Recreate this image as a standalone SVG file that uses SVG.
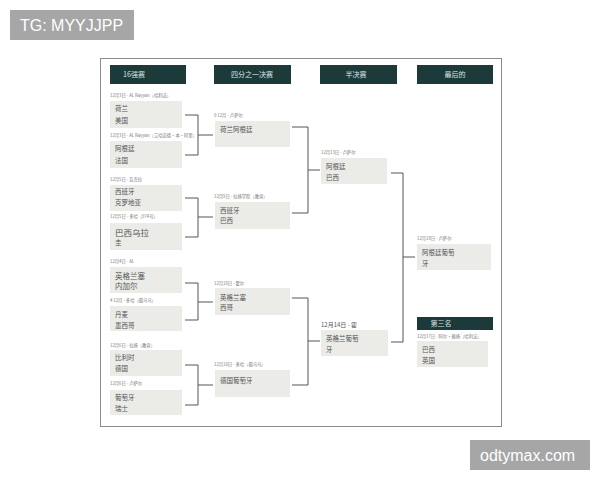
<svg xmlns="http://www.w3.org/2000/svg" width="600" height="480" viewBox="0 0 600 480">
<style>
.hd{fill:#1d3a3b}
.ht{fill:#d8e4e2;font-family:"Noto Sans CJK SC","Noto Sans",sans-serif;font-size:7px;text-anchor:middle}
.bx{fill:#ebebe8}
.tm{fill:#555;font-family:"Noto Sans CJK SC","Noto Sans",sans-serif;font-size:6.5px}
.lb{fill:#777;font-family:"Noto Sans CJK SC","Noto Sans",sans-serif;font-size:4.3px}
.cn{fill:none;stroke:#555;stroke-width:1}
.wm{fill:#fff;font-family:"Liberation Sans",Arial,sans-serif;font-size:16px}
</style>
<rect width="600" height="480" fill="#fff"/>
<g id="tag1"><rect x="10" y="10" width="124" height="30" fill="#a6a6a6"/><text class="wm" x="20" y="31">TG: MYYJJPP</text></g>
<g id="tag2"><rect x="470" y="440" width="120" height="30" fill="#a6a6a6"/><text class="wm" x="480" y="461">odtymax.com</text></g>
<rect id="frame" x="100.5" y="58.5" width="401" height="368" fill="none" stroke="#8a8a8a" stroke-width="1"/>
<g id="headers">
<rect class="hd" x="110" y="65" width="76" height="19"/><text class="ht" x="134" y="77">16强赛</text>
<rect class="hd" x="214" y="65" width="77" height="19"/><text class="ht" x="252" y="77">四分之一决赛</text>
<rect class="hd" x="320" y="65" width="77" height="19"/><text class="ht" x="356" y="77">半决赛</text>
<rect class="hd" x="417" y="65" width="76" height="19"/><text class="ht" x="455" y="77">最后的</text>
</g>
<g id="connectors">
<path class="cn" d="M185 115H198V155H185M198 135H213"/>
<path class="cn" d="M185 198H198V237H185M198 217H213"/>
<path class="cn" d="M185 283H198V320H185M198 302H213"/>
<path class="cn" d="M185 365H198V405H185M198 385H213"/>
<path class="cn" d="M292 127H308V213H292M308 170H320"/>
<path class="cn" d="M292 298H308V385H292M308 341H320"/>
<path class="cn" d="M391 173H403V342H391M403 257H415"/>
</g>
<g id="r16-1"><text class="lb" x="110" y="97">12月3日 - AL Rayyan（哈利法）</text><rect class="bx" x="110" y="101" width="72" height="27"/><text class="tm" x="115" y="111">荷兰</text><text class="tm" x="115" y="123">美国</text></g>
<g id="r16-2"><text class="lb" x="110" y="137">12月3日 - AL Rayyan（艾哈迈德·本·阿里）</text><rect class="bx" x="110" y="141" width="72" height="27"/><text class="tm" x="115" y="151">阿根廷</text><text class="tm" x="115" y="163">法国</text></g>
<g id="r16-3"><text class="lb" x="110" y="181">12月5日 - 瓦克拉</text><rect class="bx" x="110" y="185" width="72" height="26"/><text class="tm" x="115" y="194">西班牙</text><text class="tm" x="115" y="205">克罗地亚</text></g>
<g id="r16-4"><text class="lb" x="110" y="218">12月5日 - 多哈（974号）</text><rect class="bx" x="110" y="223" width="72" height="27"/><text class="tm" x="115" y="236" style="font-size:8.5px">巴西乌拉</text><text class="tm" x="115" y="245">圭</text></g>
<g id="r16-5"><text class="lb" x="110" y="263">12月4日 - AL</text><rect class="bx" x="110" y="267" width="72" height="26"/><text class="tm" x="115" y="279" style="font-size:7.5px">英格兰塞</text><text class="tm" x="115" y="289" style="font-size:7.5px">内加尔</text></g>
<g id="r16-6"><text class="lb" x="110" y="302">4 12月 - 多哈（孤马马）</text><rect class="bx" x="110" y="306" width="72" height="25"/><text class="tm" x="115" y="317">丹麦</text><text class="tm" x="115" y="328">墨西哥</text></g>
<g id="r16-7"><text class="lb" x="110" y="347">12月6日 - 拉扬（教育）</text><rect class="bx" x="110" y="350" width="72" height="26"/><text class="tm" x="115" y="360">比利时</text><text class="tm" x="115" y="371">德国</text></g>
<g id="r16-8"><text class="lb" x="110" y="385">12月6日 - 卢萨尔</text><rect class="bx" x="110" y="390" width="72" height="25"/><text class="tm" x="115" y="400">葡萄牙</text><text class="tm" x="115" y="411">瑞士</text></g>
<g id="qf-1"><text class="lb" x="214" y="117">9 12月 - 卢萨尔</text><rect class="bx" x="215" y="121" width="75" height="26"/><text class="tm" x="220" y="132">荷兰阿根廷</text></g>
<g id="qf-2"><text class="lb" x="214" y="198">12月9日 - 拉扬学院（教育）</text><rect class="bx" x="215" y="202" width="75" height="27"/><text class="tm" x="220" y="213">西班牙</text><text class="tm" x="220" y="223">巴西</text></g>
<g id="qf-3"><text class="lb" x="214" y="285">12月10日 - 霍尔</text><rect class="bx" x="215" y="288" width="75" height="27"/><text class="tm" x="220" y="300">英格兰塞</text><text class="tm" x="220" y="310">西哥</text></g>
<g id="qf-4"><text class="lb" x="214" y="366">12月10日 - 多哈（孤马马）</text><rect class="bx" x="215" y="370" width="75" height="27"/><text class="tm" x="220" y="383">德国葡萄牙</text></g>
<g id="sf-1"><text class="lb" x="321" y="154">12月13日 - 卢萨尔</text><rect class="bx" x="321" y="158" width="66" height="26"/><text class="tm" x="326" y="169">阿根廷</text><text class="tm" x="326" y="180">巴西</text></g>
<g id="sf-2"><text class="tm" x="321" y="327" style="font-size:6px">12月14日 - 霍</text><rect class="bx" x="321" y="330" width="67" height="26"/><text class="tm" x="326" y="341">英格兰葡萄</text><text class="tm" x="326" y="352">牙</text></g>
<g id="final"><text class="lb" x="417" y="240">12月18日 - 卢萨尔</text><rect class="bx" x="417" y="244" width="74" height="26"/><text class="tm" x="422" y="255">阿根廷葡萄</text><text class="tm" x="422" y="266">牙</text></g>
<g id="third"><rect class="hd" x="417" y="317" width="76" height="13"/><text class="ht" x="441" y="326">第三名</text><text class="lb" x="417" y="338">12月17日 - 阿尔·赖扬（哈利法）</text><rect class="bx" x="417" y="341" width="71" height="26"/><text class="tm" x="422" y="352">巴西</text><text class="tm" x="422" y="363">英国</text></g>
</svg>
